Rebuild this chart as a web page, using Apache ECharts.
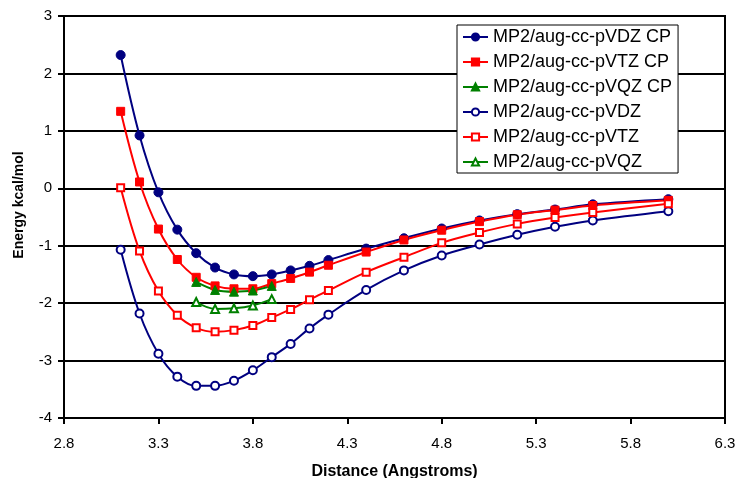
<!DOCTYPE html>
<html>
<head>
<meta charset="utf-8">
<script src="https://cdn.jsdelivr.net/npm/echarts@6/dist/echarts.min.js"></script>
<style>
html,body{margin:0;padding:0;background:#fff;}
#chart{width:735px;height:478px;}
</style>
</head>
<body>
<div id="chart"></div>
<script>
// Distances (Angstroms)
const distFull = [3.1, 3.2, 3.3, 3.4, 3.5, 3.6, 3.7, 3.8, 3.9, 4.0, 4.1, 4.2, 4.4, 4.6, 4.8, 5.0, 5.2, 5.4, 5.6, 6.0];
const distQZ = [3.5, 3.6, 3.7, 3.8, 3.9];

// Energies (kcal/mol)
const vdzCP = [2.32, 0.92, -0.07, -0.72, -1.13, -1.38, -1.50, -1.53, -1.50, -1.43, -1.35, -1.25, -1.05, -0.87, -0.70, -0.56, -0.45, -0.37, -0.28, -0.19];
const vtzCP = [1.34, 0.11, -0.71, -1.24, -1.55, -1.70, -1.75, -1.75, -1.66, -1.57, -1.46, -1.34, -1.11, -0.90, -0.73, -0.58, -0.46, -0.38, -0.30, -0.21];
const vqzCP = [-1.63, -1.77, -1.80, -1.78, -1.70];
const vdz = [-1.07, -2.18, -2.88, -3.28, -3.44, -3.44, -3.35, -3.17, -2.94, -2.71, -2.44, -2.20, -1.77, -1.43, -1.17, -0.98, -0.81, -0.67, -0.56, -0.40];
const vtz = [0.01, -1.09, -1.79, -2.21, -2.43, -2.50, -2.47, -2.39, -2.25, -2.11, -1.94, -1.78, -1.46, -1.20, -0.95, -0.77, -0.62, -0.51, -0.42, -0.27];
const vqz = [-1.98, -2.10, -2.09, -2.04, -1.93];

const seriesNames = ['MP2/aug-cc-pVDZ CP', 'MP2/aug-cc-pVTZ CP', 'MP2/aug-cc-pVQZ CP', 'MP2/aug-cc-pVDZ', 'MP2/aug-cc-pVTZ', 'MP2/aug-cc-pVQZ'];
const xTicks = [2.8, 3.3, 3.8, 4.3, 4.8, 5.3, 5.8, 6.3];

const NAVY = '#000080', RED = '#FF0000', GREEN = '#008000';
const FONT = "'Liberation Sans', Arial, sans-serif";

function pairs(xs, ys) { return xs.map((x, i) => [x, ys[i]]); }

function mk(name, xs, ys, color, symbol, size) {
  return {
    name: name,
    type: 'line',
    data: pairs(xs, ys),
    smooth: 0.35,
    symbol: symbol,
    symbolSize: size,
    showAllSymbol: true,
    lineStyle: { color: color, width: 2 },
    itemStyle: { color: color, borderColor: color, borderWidth: 1 },
    emphasis: { disabled: true },
    animation: false
  };
}

const chart = echarts.init(document.getElementById('chart'), null, { renderer: 'canvas' });
chart.setOption({
  backgroundColor: '#fff',
  animation: false,
  textStyle: { fontFamily: FONT, color: '#000' },
  grid: {
    left: 64, right: 10, top: 16, bottom: 60,
    outerBoundsMode: 'none',
    containLabel: false,
    show: true, borderColor: '#000', borderWidth: 2, backgroundColor: 'transparent'
  },
  legend: {
    orient: 'vertical',
    left: 457, top: 25,
    padding: [3, 6, 2, 5],
    itemGap: 7,
    itemWidth: 25, itemHeight: 9,
    backgroundColor: '#fff',
    borderColor: '#000', borderWidth: 1,
    textStyle: { fontFamily: FONT, fontSize: 18, color: '#000' },
    data: seriesNames
  },
  xAxis: {
    type: 'value',
    min: 2.8, max: 6.3, interval: 0.5,
    name: 'Distance (Angstroms)',
    nameLocation: 'middle',
    nameGap: 46,
    nameTextStyle: { fontFamily: FONT, fontSize: 16, fontWeight: 'bold', color: '#000' },
    axisLine: { show: true, onZero: false, lineStyle: { color: '#000', width: 2 } },
    axisTick: { show: true, inside: false, length: 6, lineStyle: { color: '#000', width: 2 }, customValues: xTicks },
    axisLabel: { fontFamily: FONT, fontSize: 15, color: '#000', margin: 18, customValues: xTicks, formatter: v => v.toFixed(1) },
    splitLine: { show: false }
  },
  yAxis: {
    type: 'value',
    min: -4, max: 3, interval: 1,
    name: 'Energy kcal/mol',
    nameLocation: 'middle',
    nameGap: 38,
    nameRotate: 90,
    nameTextStyle: { fontFamily: FONT, fontSize: 14, fontWeight: 'bold', color: '#000', padding: [0, 0, 0, 24] },
    axisLine: { show: true, lineStyle: { color: '#000', width: 2 } },
    axisTick: { show: true, inside: false, length: 6, lineStyle: { color: '#000', width: 2 } },
    axisLabel: { fontFamily: FONT, fontSize: 15, color: '#000', margin: 12 },
    splitLine: { show: true, lineStyle: { color: '#000', width: 2 } }
  },
  series: [
    mk(seriesNames[0], distFull, vdzCP, NAVY, 'circle', 9),
    mk(seriesNames[1], distFull, vtzCP, RED, 'rect', 8),
    mk(seriesNames[2], distQZ, vqzCP, GREEN, 'triangle', 9),
    mk(seriesNames[3], distFull, vdz, NAVY, 'emptyCircle', 8),
    mk(seriesNames[4], distFull, vtz, RED, 'emptyRect', 7),
    mk(seriesNames[5], distQZ, vqz, GREEN, 'emptyTriangle', 8)
  ]
});
</script>
</body>
</html>
